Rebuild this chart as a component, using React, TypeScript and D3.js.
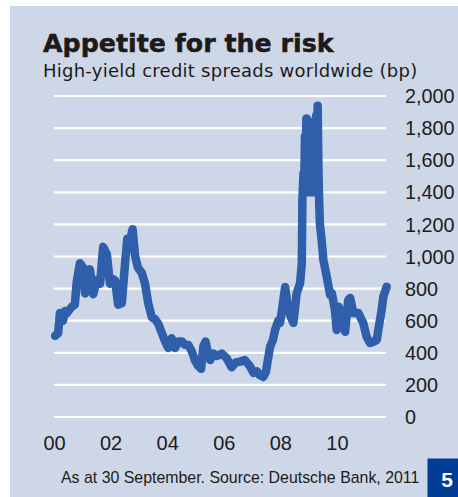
import React from 'react';
import * as d3 from 'd3';

// decimal year / spread in bp
const years = [
  2000.02, 2000.13, 2000.19, 2000.3, 2000.37, 2000.44, 2000.61, 2000.72, 2000.78, 2000.9,
  2001.02, 2001.08, 2001.18, 2001.25, 2001.37, 2001.49, 2001.61, 2001.72, 2001.85, 2001.96,
  2002.07, 2002.14, 2002.25, 2002.38, 2002.49, 2002.57, 2002.67, 2002.76, 2002.85, 2002.95,
  2003.08, 2003.2, 2003.31, 2003.44, 2003.55, 2003.67, 2003.79, 2003.91, 2004.02, 2004.14,
  2004.26, 2004.38, 2004.5, 2004.61, 2004.73, 2004.85, 2004.97, 2005.07, 2005.18, 2005.26,
  2005.34, 2005.42, 2005.5, 2005.61, 2005.74, 2005.91, 2006.09, 2006.26, 2006.41, 2006.56,
  2006.73, 2006.91, 2007.03, 2007.15, 2007.26, 2007.38, 2007.47, 2007.56, 2007.62, 2007.72,
  2007.79, 2007.91, 2007.97, 2008.03, 2008.15, 2008.26, 2008.36, 2008.44, 2008.56, 2008.68,
  2008.74, 2008.76, 2008.8, 2008.825, 2008.85, 2008.875, 2008.9, 2008.925, 2008.95, 2008.975,
  2009.0, 2009.025, 2009.05, 2009.075, 2009.1, 2009.125, 2009.15, 2009.175, 2009.2, 2009.225,
  2009.25, 2009.275, 2009.3, 2009.33, 2009.36, 2009.38,
  2009.44, 2009.5, 2009.62, 2009.74, 2009.8, 2009.91, 2009.97, 2010.04, 2010.15, 2010.27,
  2010.38, 2010.45, 2010.56, 2010.74, 2010.86, 2010.91, 2011.03, 2011.15, 2011.27, 2011.39,
  2011.44, 2011.56, 2011.62, 2011.74,
];
const spreads = [
  505, 523, 648, 600, 660, 648, 687, 700, 835, 958,
  928, 770, 850, 920, 765, 853, 830, 1060, 1015, 830,
  860, 850, 700, 710, 950, 1110, 1100, 1170, 1000, 930,
  900, 830, 710, 620, 610, 580, 525, 470, 430, 490,
  430, 470, 470, 450, 449, 410, 350, 320, 300, 440,
  470, 400, 355, 395, 380, 395, 365, 310, 340, 345,
  355, 315, 275, 285, 260, 250, 280, 376, 438, 480,
  540, 600, 586, 656, 810, 667, 620, 586, 772, 835,
  960, 1350, 1520, 1420, 1750, 1400, 1860, 1420, 1850, 1400,
  1800, 1430, 1760, 1400, 1710, 1420, 1720, 1400, 1780, 1420,
  1880, 1450, 1940, 1500, 1300, 1200,
  1103, 980, 874, 760, 772, 667, 542, 687, 636, 531,
  729, 741, 648, 648, 604, 586, 500, 461, 469, 480,
  540, 667, 750, 812,
];
const yTicks = [0, 200, 400, 600, 800, 1000, 1200, 1400, 1600, 1800, 2000];
const xTicks = [2000, 2002, 2004, 2006, 2008, 2010];

const W = 458;
const H = 497;
const font = '"Liberation Sans", Arial, sans-serif';
const ink = '#1e1a1a';

export default function App() {
  const x = d3.scaleLinear().domain([2000, 2011.75]).range([54.5, 387]);
  const y = d3.scaleLinear().domain([0, 2000]).range([417, 96]);
  const data = years.map((t, i) => ({ t, v: spreads[i] }));
  const line = d3.line<{ t: number; v: number }>().x(d => x(d.t)).y(d => y(d.v));

  return (
    <svg width={W} height={H} style={{ position: 'absolute', left: 0, top: 0 }} fontFamily={font}>
      <rect width={W} height={H} fill="#fff" />
      <rect x={10} y={6} width={W - 10} height={H - 6} fill="#cdd7e8" />
      <text
        x={43}
        y={52}
        fontSize={25.3}
        fontWeight="bold"
        fontFamily='"DejaVu Sans", sans-serif'
        fill={ink}
        stroke={ink}
        strokeWidth={0.5}
      >
        Appetite for the risk
      </text>
      <text x={43} y={77} fontSize={18} fontFamily='"DejaVu Sans", sans-serif' letterSpacing={0.25} fill={ink}>
        High-yield credit spreads worldwide (bp)
      </text>
      {yTicks.map(t => (
        <g key={t}>
          <line x1={54} x2={386} y1={y(t)} y2={y(t)} stroke="#fff" strokeWidth={2.2} />
          <text x={405} y={y(t)} dy="0.36em" fontSize={19.8} fill={ink}>
            {d3.format(',')(t)}
          </text>
        </g>
      ))}
      {xTicks.map(t => (
        <text key={t} x={x(t)} y={450} textAnchor="middle" fontSize={20} fill={ink}>
          {String(t % 100).padStart(2, '0')}
        </text>
      ))}
      <path
        d={line(data) ?? ''}
        fill="none"
        stroke="#2f5faa"
        strokeWidth={8.5}
        strokeLinejoin="round"
        strokeLinecap="round"
      />
      <text x={61} y={483} fontSize={15.9} fill={ink}>
        As at 30 September. Source: Deutsche Bank, 2011
      </text>
      <rect x={427.5} y={458.5} width={W - 427.5} height={H - 458.5} fill="#003d97" />
      <text x={447} y={487} textAnchor="middle" fontSize={21} fontWeight="bold" fill="#fff">
        5
      </text>
    </svg>
  );
}
